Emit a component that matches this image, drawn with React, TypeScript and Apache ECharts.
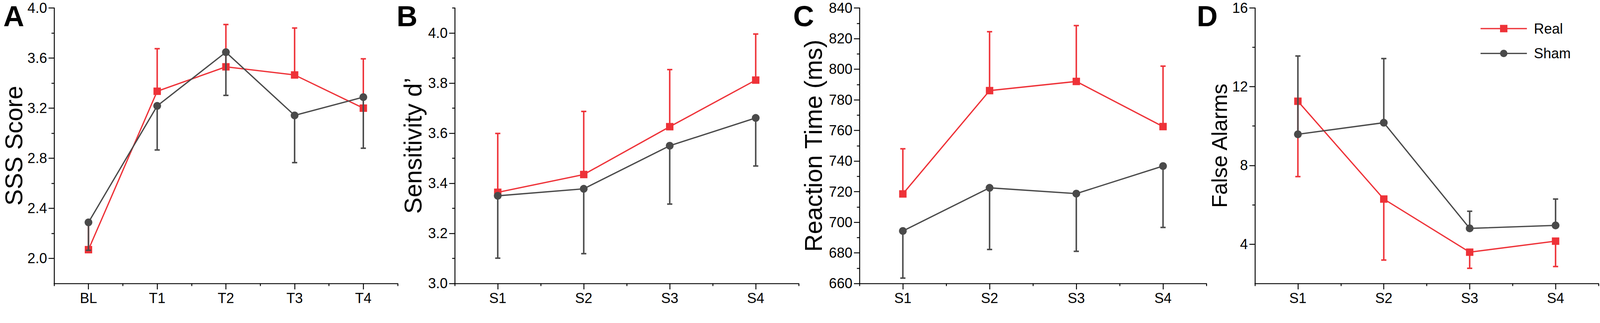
import React, { useEffect, useRef, useState } from 'react';
import * as echarts from 'echarts';

const FONT = '"Liberation Sans", Arial, Helvetica, sans-serif';
const RED = '#EE3238';
const GRAY = '#4A4A4A';
const BLACK = '#000000';

const PAGE_W = 4317;
const PAGE_H = 826;

// ---------- data ----------
const catsA = ['BL', 'T1', 'T2', 'T3', 'T4'];
const catsS = ['S1', 'S2', 'S3', 'S4'];

// Panel A: SSS Score
const realA = [2.07, 3.335, 3.53, 3.465, 3.2];
const realAErr = [0.22, 0.34, 0.338, 0.375, 0.394];
const shamA = [2.288, 3.218, 3.647, 3.142, 3.288];
const shamAErr = [0.223, 0.352, 0.345, 0.377, 0.408];
const ticksA = [2.0, 2.4, 2.8, 3.2, 3.6, 4.0];
const minorA = [2.2, 2.6, 3.0, 3.4, 3.8];

// Panel B: Sensitivity d'
const realB = [3.364, 3.435, 3.626, 3.812];
const realBErr = [0.235, 0.252, 0.228, 0.184];
const shamB = [3.35, 3.378, 3.55, 3.661];
const shamBErr = [0.249, 0.259, 0.233, 0.192];
const ticksB = [3.0, 3.2, 3.4, 3.6, 3.8, 4.0];
const minorB = [3.1, 3.3, 3.5, 3.7, 3.9, 4.1];

// Panel C: Reaction Time (ms)
const realC = [718.5, 786, 792, 762.5];
const realCErr = [29.5, 38.5, 36.5, 39.5];
const shamC = [694.3, 722.5, 718.7, 736.7];
const shamCErr = [30.8, 40.3, 37.7, 40.1];
const ticksC = [660, 680, 700, 720, 740, 760, 780, 800, 820, 840];
const minorC = [670, 690, 710, 730, 750, 770, 790, 810, 830];

// Panel D: False Alarms
const realD = [11.26, 6.29, 3.59, 4.15];
const realDErr = [3.83, 3.1, 0.82, 1.29];
const shamD = [9.58, 10.17, 4.8, 4.95];
const shamDErr = [3.98, 3.26, 0.87, 1.34];
const ticksD = [4, 8, 12, 16];
const minorD = [6, 10, 14];

const seriesNames = ['Real', 'Sham'];

// ---------- layout ----------
const panels = [
  { letter: 'A', letterX: 9, cats: catsA, real: realA, realErr: realAErr, sham: shamA, shamErr: shamAErr, realDir: 1,
    ticks: ticksA, minor: minorA, min: 1.8, max: 4.0, title: 'SSS Score', titleSize: 66, nameGap: 72,
    left: 146, width: 927, digits: 1 },
  { letter: 'B', letterX: 1070, cats: catsS, real: realB, realErr: realBErr, sham: shamB, shamErr: shamBErr, realDir: 1,
    ticks: ticksB, minor: minorB, min: 3.0, max: 4.1, title: 'Sensitivity d\u2019', titleSize: 66, nameGap: 80,
    left: 1227, width: 928, digits: 1 },
  { letter: 'C', letterX: 2140, cats: catsS, real: realC, realErr: realCErr, sham: shamC, shamErr: shamCErr, realDir: 1,
    ticks: ticksC, minor: minorC, min: 660, max: 840, title: 'Reaction Time (ms)', titleSize: 66, nameGap: 92,
    left: 2319, width: 936, digits: 0 },
  { letter: 'D', letterX: 3229, cats: catsS, real: realD, realErr: realDErr, sham: shamD, shamErr: shamDErr, realDir: -1,
    ticks: ticksD, minor: minorD, min: 2, max: 16, title: 'False Alarms', titleSize: 58, nameGap: 67,
    left: 3386, width: 927, digits: 0 },
];

const GRID_TOP = 21.5;
const GRID_H = 742.5;
const AXIS_W = 2.5;

function makeErrRenderer(color: string) {
  return (params: any, api: any) => {
    const x = api.value(0);
    const v = api.value(1);
    const e = api.value(2);
    const p0 = api.coord([x, v]);
    const p1 = api.coord([x, e]);
    const w = 7;
    return {
      type: 'group',
      children: [
        { type: 'line', shape: { x1: p0[0], y1: p0[1], x2: p1[0], y2: p1[1] }, style: { stroke: color, lineWidth: 4 } },
        { type: 'line', shape: { x1: p1[0] - w, y1: p1[1], x2: p1[0] + w, y2: p1[1] }, style: { stroke: color, lineWidth: 4 } },
      ],
    };
  };
}

function buildOption() {
  const grid: any[] = [];
  const xAxis: any[] = [];
  const yAxis: any[] = [];
  const series: any[] = [];
  const graphic: any[] = [];
  const axisLineStyle = { color: BLACK, width: AXIS_W };

  panels.forEach((p, g) => {
    grid.push({ left: p.left, top: GRID_TOP, width: p.width, height: GRID_H, containLabel: false });
    xAxis.push({
      type: 'category', gridIndex: g, data: p.cats, boundaryGap: true, position: 'bottom',
      axisLine: { show: true, onZero: false, lineStyle: axisLineStyle },
      axisTick: { show: true, alignWithLabel: true, interval: 0, length: 16, lineStyle: axisLineStyle },
      axisLabel: { show: true, interval: 0, fontSize: 38, lineHeight: 34, color: BLACK, fontFamily: FONT, margin: 23 },
      splitLine: { show: false },
    });
    xAxis.push({
      type: 'category', gridIndex: g, data: p.cats, boundaryGap: true, position: 'bottom',
      axisLine: { show: false, onZero: false },
      axisTick: { show: true, alignWithLabel: false, interval: 0, length: 7, lineStyle: axisLineStyle },
      axisLabel: { show: false },
      splitLine: { show: false },
    });
    yAxis.push({
      type: 'value', gridIndex: g, min: p.min, max: p.max, position: 'left',
      axisLine: { show: true, onZero: false, lineStyle: axisLineStyle },
      axisTick: { show: true, length: 15, customValues: p.ticks, lineStyle: axisLineStyle },
      axisLabel: {
        show: true, customValues: p.ticks, fontSize: 38, lineHeight: 34, color: BLACK, fontFamily: FONT, margin: 19,
        formatter: (v: number) => v.toFixed(p.digits),
      },
      splitLine: { show: false },
      name: p.title, nameLocation: 'middle', nameGap: p.nameGap,
      nameTextStyle: { fontSize: p.titleSize, color: BLACK, fontFamily: FONT },
    });
    yAxis.push({
      type: 'value', gridIndex: g, min: p.min, max: p.max, position: 'left',
      axisLine: { show: false, onZero: false },
      axisTick: { show: true, length: 7, customValues: p.minor, lineStyle: axisLineStyle },
      axisLabel: { show: false },
      splitLine: { show: false },
    });

    const xi = 2 * g;
    const yi = 2 * g;
    series.push({
      type: 'line', name: seriesNames[0], xAxisIndex: xi, yAxisIndex: yi, z: 2,
      data: p.real, symbol: 'rect', symbolSize: 20, color: RED,
      lineStyle: { color: RED, width: 3.5 }, itemStyle: { color: RED },
    });
    series.push({
      type: 'custom', name: 'Real error', xAxisIndex: xi, yAxisIndex: yi, z: 3, silent: true,
      data: p.real.map((v, i) => [i, v, v + p.realDir * p.realErr[i]]),
      encode: { x: 0, y: [1, 2] },
      renderItem: makeErrRenderer(RED),
    });
    series.push({
      type: 'line', name: seriesNames[1], xAxisIndex: xi, yAxisIndex: yi, z: 4,
      data: p.sham, symbol: 'circle', symbolSize: 21, color: GRAY,
      lineStyle: { color: GRAY, width: 3.5 }, itemStyle: { color: GRAY },
    });
    series.push({
      type: 'custom', name: 'Sham error', xAxisIndex: xi, yAxisIndex: yi, z: 5, silent: true,
      data: p.sham.map((v, i) => [i, v, v - p.realDir * p.shamErr[i]]),
      encode: { x: 0, y: [1, 2] },
      renderItem: makeErrRenderer(GRAY),
    });

    graphic.push({
      type: 'text', x: p.letterX, y: 44,
      style: { text: p.letter, font: `bold 78px ${FONT}`, lineHeight: 60, fill: BLACK, align: 'left', verticalAlign: 'middle' },
    });
  });

  return {
    animation: false,
    backgroundColor: '#ffffff',
    textStyle: { fontFamily: FONT },
    grid, xAxis, yAxis, series, graphic,
    legend: {
      show: true, data: seriesNames, orient: 'vertical', left: 3988, top: 52,
      itemWidth: 125, itemHeight: 25, itemGap: 27, selectedMode: false,
      lineStyle: { width: 3.5 },
      textStyle: { fontSize: 38, color: BLACK, fontFamily: FONT, lineHeight: 40, padding: [0, 0, 0, 14] },
    },
  };
}

function fitScale() {
  if (typeof window === 'undefined') return 1;
  const w = window.innerWidth || PAGE_W;
  const h = window.innerHeight || PAGE_H;
  const k = Math.min(w / PAGE_W, h / PAGE_H);
  return k > 0 && k < 1 ? k : 1;
}

export default function App() {
  const ref = useRef<HTMLDivElement>(null);
  const [k, setK] = useState<number>(fitScale());
  useEffect(() => {
    const onResize = () => setK(fitScale());
    window.addEventListener('resize', onResize);
    return () => window.removeEventListener('resize', onResize);
  }, []);
  useEffect(() => {
    if (!ref.current) return;
    const chart = echarts.init(ref.current, undefined, { renderer: 'svg' });
    chart.setOption(buildOption() as any);
    return () => chart.dispose();
  }, []);
  return (
    <div
      style={{
        position: 'absolute', left: 0, top: 0, width: PAGE_W, height: PAGE_H,
        transform: `scale(${k})`, transformOrigin: '0 0', background: '#fff',
      }}
    >
      <div ref={ref} style={{ width: PAGE_W, height: PAGE_H }} />
    </div>
  );
}
